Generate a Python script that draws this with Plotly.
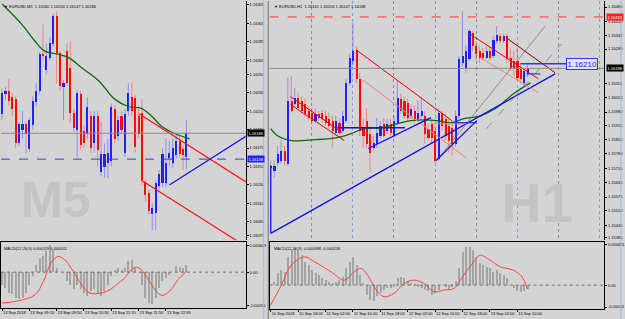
import plotly.graph_objects as go

W, H = 625, 319

# ---------------- M5 (left window) data ----------------
m5_open = [1.16207, 1.16229, 1.16232, 1.16225, 1.16223, 1.16176, 1.16190, 1.16196, 1.16169, 1.16195,
           1.16220, 1.16232, 1.16272, 1.16255, 1.16268, 1.16283, 1.16313, 1.16273, 1.16236, 1.16275,
           1.16257, 1.16208, 1.16190, 1.16229, 1.16189, 1.16185, 1.16205, 1.16175, 1.16205, 1.16144,
           1.16149, 1.16154, 1.16156, 1.16212, 1.16183, 1.16205, 1.16165, 1.16210, 1.16225, 1.16224,
           1.16205, 1.16208, 1.16133, 1.16121, 1.16099, 1.16100, 1.16129, 1.16132, 1.16132, 1.16159,
           1.16154, 1.16162, 1.16178, 1.16169, 1.16160]
m5_high = [1.16234, 1.16236, 1.16245, 1.16230, 1.16226, 1.16198, 1.16210, 1.16198, 1.16203, 1.16226,
           1.16240, 1.16274, 1.16304, 1.16283, 1.16290, 1.16316, 1.16318, 1.16275, 1.16244, 1.16284,
           1.16286, 1.16212, 1.16233, 1.16232, 1.16195, 1.16225, 1.16210, 1.16210, 1.16210, 1.16198,
           1.16175, 1.16180, 1.16218, 1.16216, 1.16205, 1.16210, 1.16212, 1.16240, 1.16241, 1.16228,
           1.16215, 1.16223, 1.16136, 1.16125, 1.16110, 1.16135, 1.16146, 1.16170, 1.16181, 1.16178,
           1.16180, 1.16186, 1.16184, 1.16172, 1.16200]
m5_low = [1.16200, 1.16222, 1.16216, 1.16205, 1.16170, 1.16172, 1.16180, 1.16164, 1.16166, 1.16190,
          1.16215, 1.16228, 1.16265, 1.16250, 1.16265, 1.16280, 1.16240, 1.16232, 1.16200, 1.16238,
          1.16198, 1.16188, 1.16160, 1.16168, 1.16170, 1.16180, 1.16165, 1.16165, 1.16150, 1.16140,
          1.16138, 1.16137, 1.16150, 1.16175, 1.16178, 1.16185, 1.16160, 1.16205, 1.16205, 1.16165,
          1.16180, 1.16130, 1.16112, 1.16098, 1.16081, 1.16081, 1.16125, 1.16128, 1.16128, 1.16150,
          1.16148, 1.16158, 1.16160, 1.16146, 1.16147]
m5_close = [1.16230, 1.16232, 1.16221, 1.16212, 1.16175, 1.16196, 1.16196, 1.16185, 1.16200, 1.16221,
            1.16232, 1.16272, 1.16270, 1.16270, 1.16284, 1.16313, 1.16273, 1.16237, 1.16240, 1.16241,
            1.16208, 1.16192, 1.16230, 1.16173, 1.16176, 1.16215, 1.16170, 1.16205, 1.16168, 1.16164,
            1.16164, 1.16165, 1.16214, 1.16180, 1.16200, 1.16190, 1.16207, 1.16230, 1.16210, 1.16171,
            1.16185, 1.16135, 1.16119, 1.16102, 1.16105, 1.16132, 1.16142, 1.16164, 1.16154, 1.16165,
            1.16170, 1.16178, 1.16164, 1.16162, 1.16186]
m5_ma_bar = [0, 5.8, 9.6, 12.5, 16, 19.5, 23.3, 28.3, 33, 37, 40.8, 43.7, 46.6, 50.4, 55]
m5_ma_val = [1.16326, 1.16304, 1.16286, 1.16275, 1.16272, 1.16268, 1.16257, 1.16243, 1.16223, 1.16215,
             1.16213, 1.16205, 1.16194, 1.16186, 1.16180]
m5_macd = [-0.000210, -0.000265, -0.000348, -0.000376, -0.000431, -0.000459, -0.000431, -0.000348, -0.000210, -0.000072,
           0.000122, 0.000232, 0.000260, 0.000343, 0.000453, 0.000371, 0.000066, 0.000000, 0.000000, -0.000155,
           -0.000210, -0.000293, -0.000210, -0.000293, -0.000348, -0.000404, -0.000321, -0.000293, -0.000376, -0.000404,
           -0.000321, -0.000210, -0.000072, 0.000039, 0.000066, 0.000039, 0.000066, 0.000177, 0.000205, 0.000066,
           0.000000, -0.000210, -0.000431, -0.000514, -0.000542, -0.000431, -0.000265, -0.000155, -0.000100, -0.000044,
           0.000000, 0.000094, 0.000083, 0.000066, 0.000119]
m5_sig_bar = [0, 4.9, 9.7, 12.1, 14.6, 16.5, 18.4, 20.9, 23.3, 25.7, 29.1, 31.6, 33.5, 35.9, 37.9, 39.3,
              40.8, 43.2, 45.6, 47.1, 49.5, 51.5, 54]
m5_sig_val = [-0.000514, -0.000476, -0.000376, -0.000155, 0.000177, 0.000260, 0.000205, 0.000011, -0.000210,
              -0.000348, -0.000348, -0.000293, -0.000210, -0.000100, 0.000039, 0.000083, 0.000039, -0.000155,
              -0.000348, -0.000387, -0.000293, -0.000127, 0.000011]
m5_date_bar = [0, 8, 16, 24, 32, 40, 48]
m5_date_text = ["13 Sep 2018", "13 Sep 09:10", "13 Sep 09:50", "13 Sep 10:30", "13 Sep 11:10",
                "13 Sep 11:50", "13 Sep 12:30"]
m5_price_ticks = [1.16325, 1.16305, 1.16285, 1.16265, 1.16250, 1.16230, 1.16210, 1.16190, 1.16170,
                  1.16150, 1.16130, 1.16110, 1.16090, 1.16075]
m5_macd_ticks = [0.000449, 0.0, -0.00055]
m5_macd_ticktext = ["0.000449", "0.00", "-0.00055"]
# drawn objects (bar index, price)
m5_red_upper = ([40.2, 72], [1.16207, 1.16132])
m5_red_lower = ([40.8, 72], [1.16135, 1.16062])
m5_blue_line = ([49, 72], [1.16130, 1.16184])
m5_bid = 1.16186
m5_level = 1.16158

# ---------------- H1 (right window) data ----------------
h1_open = [1.15715, 1.15701, 1.15739, 1.15749, 1.15796, 1.15734, 1.16034, 1.16019, 1.16048, 1.16034,
           1.16019, 1.15986, 1.15977, 1.15939, 1.15972, 1.15977, 1.15962, 1.15948, 1.15939, 1.15882,
           1.15929, 1.15891, 1.15939, 1.16119, 1.16224, 1.16276, 1.16138, 1.15905, 1.15939, 1.15877,
           1.15810, 1.15829, 1.15867, 1.15924, 1.15891, 1.15924, 1.15867, 1.15929, 1.16043, 1.16034,
           1.16024, 1.15962, 1.15986, 1.15948, 1.15962, 1.15962, 1.15901, 1.15924, 1.15891, 1.15758,
           1.15977, 1.15948, 1.15915, 1.15905, 1.15829, 1.15962, 1.16214, 1.16190, 1.16233, 1.16356,
           1.16295, 1.16271, 1.16262, 1.16238, 1.16271, 1.16247, 1.16318, 1.16342, 1.16318, 1.16342,
           1.16238, 1.16224, 1.16224, 1.16186, 1.16119, 1.16161]
h1_high = [1.15749, 1.15749, 1.15820, 1.15844, 1.15820, 1.16143, 1.16152, 1.16095, 1.16072, 1.16057,
           1.16043, 1.16010, 1.16000, 1.15996, 1.15986, 1.15991, 1.15986, 1.15977, 1.15962, 1.15962,
           1.15948, 1.15986, 1.16138, 1.16257, 1.16404, 1.16295, 1.16167, 1.15948, 1.16000, 1.15915,
           1.15867, 1.15953, 1.15939, 1.15948, 1.15948, 1.15948, 1.15962, 1.16129, 1.16067, 1.16053,
           1.16043, 1.16015, 1.16010, 1.16034, 1.16053, 1.15986, 1.15924, 1.15948, 1.15915, 1.15996,
           1.15986, 1.15972, 1.15948, 1.15939, 1.15986, 1.16247, 1.16461, 1.16295, 1.16376, 1.16366,
           1.16318, 1.16295, 1.16285, 1.16295, 1.16285, 1.16342, 1.16390, 1.16356, 1.16351, 1.16351,
           1.16281, 1.16271, 1.16285, 1.16214, 1.16190, 1.16206]
h1_low = [1.15677, 1.15668, 1.15720, 1.15734, 1.15725, 1.15725, 1.15977, 1.16005, 1.15986, 1.15972,
          1.15958, 1.15939, 1.15920, 1.15929, 1.15939, 1.15929, 1.15915, 1.15901, 1.15810, 1.15867,
          1.15872, 1.15882, 1.15929, 1.16105, 1.16200, 1.16119, 1.15867, 1.15810, 1.15810, 1.15692,
          1.15796, 1.15810, 1.15858, 1.15858, 1.15877, 1.15867, 1.15858, 1.15920, 1.15972, 1.15948,
          1.15939, 1.15948, 1.15929, 1.15939, 1.15948, 1.15829, 1.15844, 1.15829, 1.15739, 1.15749,
          1.15891, 1.15844, 1.15787, 1.15772, 1.15815, 1.15948, 1.16195, 1.16167, 1.16224, 1.16271,
          1.16224, 1.16214, 1.16224, 1.16233, 1.16224, 1.16238, 1.16309, 1.16304, 1.16309, 1.16214,
          1.16176, 1.16152, 1.16129, 1.16119, 1.16105, 1.16147]
h1_close = [1.15725, 1.15725, 1.15782, 1.15796, 1.15749, 1.16034, 1.15986, 1.16048, 1.16000, 1.15986,
            1.15972, 1.15953, 1.15939, 1.15972, 1.15953, 1.15948, 1.15929, 1.15915, 1.15891, 1.15939,
            1.15882, 1.15962, 1.16119, 1.16238, 1.16271, 1.16138, 1.15891, 1.15867, 1.15829, 1.15787,
            1.15834, 1.15882, 1.15915, 1.15867, 1.15924, 1.15882, 1.15939, 1.16048, 1.15986, 1.15962,
            1.15953, 1.15996, 1.15948, 1.15977, 1.15986, 1.15877, 1.15858, 1.15858, 1.15749, 1.15977,
            1.15915, 1.15867, 1.15844, 1.15829, 1.15962, 1.16233, 1.16247, 1.16271, 1.16366, 1.16295,
            1.16257, 1.16238, 1.16238, 1.16271, 1.16238, 1.16323, 1.16347, 1.16318, 1.16342, 1.16233,
            1.16190, 1.16186, 1.16143, 1.16138, 1.16176, 1.16188]
h1_ma_bar = [0, 2, 6.1, 12.8, 19.5, 23.5, 27.3, 32.3, 36.9, 41, 44.8, 48.5, 52.6, 56.4, 61.3, 66, 70.9, 75.9]
h1_ma_val = [1.15901, 1.15867, 1.15844, 1.15848, 1.15858, 1.15877, 1.15901, 1.15905, 1.15924, 1.15939,
             1.15943, 1.15939, 1.15929, 1.15948, 1.15962, 1.16000, 1.16067, 1.16119]
h1_macd = [0.0, 0.000067, 0.000233, 0.000300, 0.000267, 0.000567, 0.000700, 0.000733, 0.000700, 0.000600,
           0.000467, 0.000400, 0.000300, 0.000233, 0.000200, 0.000147, 0.000100, 0.000053, 0.000033, 0.000067,
           0.000100, 0.000167, 0.000333, 0.000467, 0.000567, 0.000400, 0.000200, 0.000033, -0.000200, -0.000300,
           -0.000333, -0.000233, -0.000167, -0.000100, -0.000067, -0.000067, -0.000033, 0.000133, 0.000167, 0.000133,
           0.000080, 0.000033, 0.000013, -0.000033, -0.000053, -0.000100, -0.000133, -0.000200, -0.000167, -0.000100,
           0.0, -0.000033, -0.000100, -0.000033, 0.000080, 0.000333, 0.000667, 0.000767, 0.000767, 0.000700,
           0.000567, 0.000433, 0.000400, 0.000367, 0.000333, 0.000267, 0.000300, 0.000233, 0.000200, 0.000133,
           0.0, -0.000067, -0.000133, -0.000147, -0.000120, -0.000088]
h1_sig_bar = [0, 3.1, 6, 9.9, 12.8, 17.6, 21.5, 24.4, 26.4, 28.3, 31.2, 33.1, 36, 39, 41.9, 44.8, 47.7,
              50.6, 53.5, 56.4, 59.3, 61.2, 64.1, 67.1, 70.9, 73.4, 75]
h1_sig_val = [-0.000400, 0.0, 0.000400, 0.000567, 0.000467, 0.000267, 0.000100, 0.000267, 0.000333, 0.000200,
              -0.000133, -0.000233, -0.000167, 0.000033, 0.000100, 0.000033, -0.000133, -0.000100, -0.000067,
              0.000200, 0.000467, 0.000600, 0.000500, 0.000367, 0.000300, 0.000167, -0.000080]
h1_date_bar = [0, 8, 16, 24, 32, 40, 48, 56, 64, 72]
h1_date_text = ["10 Sep 2018", "10 Sep 18:00", "11 Sep 02:00", "11 Sep 10:00", "11 Sep 18:00",
                "12 Sep 02:00", "12 Sep 10:00", "12 Sep 18:00", "13 Sep 02:00", "13 Sep 10:00"]
h1_price_ticks = [1.16480, 1.16410, 1.16345, 1.16280, 1.16115, 1.16050, 1.15980, 1.15915, 1.15850,
                  1.15780, 1.15710, 1.15645, 1.15575, 1.15510, 1.15440, 1.15380]
h1_macd_ticks = [0.00082, 0.0, -0.00044]
h1_macd_ticktext = ["0.000821", "0.00", "-0.00044"]
h1_grid_minor = [12, 36, 60, 84]
h1_grid_major = [24, 48, 72, 96]
h1_bid = 1.16188
h1_red_level = 1.16433
h1_blue_level = 1.16210
# drawn objects (bar index, price)
h1_lines = [
    ([0, 83.1], [1.15402, 1.16162], "#1010e0", 1.3, "solid"),
    ([0, 0], [1.15725, 1.15402], "#1010e0", 1.3, "solid"),
    ([68.9, 83.1], [1.16333, 1.16167], "#800000", 1.0, "solid"),
    ([57.8, 78.2], [1.16356, 1.16138], "#e00000", 1.0, "solid"),
    ([61.3, 78.2], [1.16238, 1.16072], "#f08080", 1.0, "solid"),
    ([73, 86.3], [1.16210, 1.16210], "#3030ff", 1.6, "solid"),
    ([74.7, 78.8], [1.16162, 1.16162], "#3030ff", 1.3, "solid"),
    ([48.5, 80.2], [1.15749, 1.16390], "#707070", 0.7, "solid"),
    ([63, 84.9], [1.15900, 1.16304], "#707070", 0.7, "dash"),
    ([25, 52.9], [1.16276, 1.15939], "#e00000", 1.0, "solid"),
    ([26.5, 57], [1.16138, 1.15763], "#f08080", 1.0, "solid"),
    ([47, 57], [1.15924, 1.15924], "#f08080", 1.0, "solid"),
    ([5.8, 20.9], [1.16053, 1.15882], "#e00000", 1.0, "solid"),
    ([5.8, 21.5], [1.16015, 1.15844], "#e00000", 1.0, "solid"),
    ([19.5, 39.2], [1.15905, 1.15905], "#1010e0", 1.3, "solid"),
    ([28.5, 46.8], [1.15806, 1.15953], "#1010e0", 1.3, "solid"),
    ([48.3, 60.2], [1.15749, 1.15939], "#1010e0", 1.3, "solid"),
    ([53.5, 60.2], [1.15929, 1.15929], "#3030ff", 1.3, "solid"),
]

BG = "#d4d4d4"
BULL, BEAR = "#1a1aff", "#ff0000"
BULL_W, BEAR_W = "rgba(60,60,255,0.45)", "rgba(255,40,40,0.45)"
FONT = "Liberation Sans"

def xdom(a, b):
    return [a / W, b / W]

def ydom(top, bottom):
    return [1 - bottom / H, 1 - top / H]

fig = go.Figure()

def add_candles(o, h, l, c, xa, ya):
    idx = list(range(len(o)))
    for up, bcol, wcol in [(True, BULL, BULL_W), (False, BEAR, BEAR_W)]:
        sel = [i for i in idx if (c[i] >= o[i]) == up]
        wx, wy = [], []
        for i in sel:
            wx += [i, i, None]
            wy += [l[i], h[i], None]
        fig.add_trace(go.Scatter(x=wx, y=wy, mode="lines", line=dict(color=wcol, width=1),
                                 xaxis=xa, yaxis=ya, hoverinfo="skip", showlegend=False))
        fig.add_trace(go.Bar(x=sel, y=[max(abs(c[i] - o[i]), 0.00002) for i in sel],
                             base=[min(o[i], c[i]) for i in sel], width=0.62,
                             marker=dict(color=bcol, line_width=0), xaxis=xa, yaxis=ya,
                             showlegend=False))

def add_line(xs, ys, color, width, xa, ya, dash="solid", shape="linear"):
    fig.add_trace(go.Scatter(x=xs, y=ys, mode="lines", line=dict(color=color, width=width, dash=dash, shape=shape),
                             xaxis=xa, yaxis=ya, hoverinfo="skip", showlegend=False))

# ---- left main
add_candles(m5_open, m5_high, m5_low, m5_close, "x", "y")
add_line(m5_ma_bar, m5_ma_val, "#0a6a0a", 1.3, "x", "y", shape="spline")
add_line(*m5_red_upper, "#ff1010", 1.2, "x", "y")
add_line(*m5_red_lower, "#ff1010", 1.2, "x", "y")
add_line(*m5_blue_line, "#1010e0", 1.2, "x", "y")
# ---- left macd
fig.add_trace(go.Bar(x=list(range(len(m5_macd))), y=m5_macd, width=0.3, marker=dict(color="#a4a4a4", line_width=0),
                     xaxis="x2", yaxis="y2", showlegend=False))
add_line(m5_sig_bar, m5_sig_val, "#ff4040", 1.0, "x2", "y2", shape="spline")
# ---- right main
add_candles(h1_open, h1_high, h1_low, h1_close, "x3", "y3")
add_line(h1_ma_bar, h1_ma_val, "#0a6a0a", 1.3, "x3", "y3", shape="spline")
for xs, ys, col, wd, ds in h1_lines:
    add_line(xs, ys, col, wd, "x3", "y3", dash=ds)
# ---- right macd
fig.add_trace(go.Bar(x=list(range(len(h1_macd))), y=h1_macd, width=0.3, marker=dict(color="#a4a4a4", line_width=0),
                     xaxis="x4", yaxis="y4", showlegend=False))
add_line(h1_sig_bar, h1_sig_val, "#ff4040", 1.0, "x4", "y4", shape="spline")

tickfont = dict(family=FONT, size=4, color="#000000")
axis_common = dict(showgrid=False, zeroline=False, fixedrange=True)

def fmt(v, n=5):
    return f"{v:.{n}f}"

fig.update_layout(
    width=W, height=H, margin=dict(l=0, r=0, t=0, b=0), autosize=False,
    paper_bgcolor=BG, plot_bgcolor=BG, barmode="overlay", bargap=0,
    showlegend=False,
    xaxis=dict(domain=xdom(0, 246), range=[-0.3, 71.4], anchor="y", showticklabels=False, ticks="",
               **axis_common),
    yaxis=dict(domain=ydom(0, 240), range=[1.160701, 1.163293], anchor="x", side="right",
               tickvals=m5_price_ticks, ticktext=[fmt(v) for v in m5_price_ticks], tickfont=tickfont,
               ticks="outside", ticklen=2, tickcolor="#000", showline=True, linecolor="#000", linewidth=1,
               **axis_common),
    xaxis2=dict(domain=xdom(0, 246), range=[-0.3, 71.4], anchor="y2", tickvals=m5_date_bar,
                ticktext=m5_date_text, tickfont=tickfont, ticks="outside", ticklen=2, tickcolor="#000",
                ticklabelposition="outside right", tickangle=0, showline=True, mirror=True, linecolor="#000",
                **axis_common),
    yaxis2=dict(domain=ydom(242, 308), range=[-0.000598, 0.000498], anchor="x2", side="right",
                tickvals=m5_macd_ticks, ticktext=m5_macd_ticktext, tickfont=tickfont, ticks="outside",
                ticklen=2, tickcolor="#000", showline=True, mirror=True, linecolor="#000", **axis_common),
    xaxis3=dict(domain=xdom(270, 606), range=[-0.3, 97.4], anchor="y3", tickvals=h1_grid_major,
                showticklabels=False, ticks="", showgrid=True, gridcolor="#7f9fd8", griddash="dot",
                gridwidth=1, zeroline=False, fixedrange=True,
                minor=dict(tickvals=h1_grid_minor, showgrid=True, gridcolor="#8c8c8c", griddash="dot",
                           gridwidth=1)),
    yaxis3=dict(domain=ydom(0, 240), range=[1.15369, 1.16509], anchor="x3", side="right",
                tickvals=h1_price_ticks, ticktext=[fmt(v) for v in h1_price_ticks], tickfont=tickfont,
                ticks="outside", ticklen=2, tickcolor="#000", showline=True, linecolor="#000", linewidth=1,
                **axis_common),
    xaxis4=dict(domain=xdom(270, 606), range=[-0.3, 97.4], anchor="y4", tickvals=h1_date_bar,
                ticktext=h1_date_text, tickfont=tickfont, ticks="outside", ticklen=2, tickcolor="#000",
                ticklabelposition="outside right", tickangle=0, showline=True, mirror=True, linecolor="#000",
                **axis_common),
    yaxis4=dict(domain=ydom(242, 309), range=[-0.00048, 0.00086], anchor="x4", side="right",
                tickvals=h1_macd_ticks, ticktext=h1_macd_ticktext, tickfont=tickfont, ticks="outside",
                ticklen=2, tickcolor="#000", showline=True, mirror=True, linecolor="#000", **axis_common),
)

shapes = []
# horizontal price levels
shapes.append(dict(type="line", xref="x domain", x0=0, x1=1, yref="y", y0=m5_bid, y1=m5_bid,
                   line=dict(color="#8a8a8a", width=1)))
shapes.append(dict(type="line", xref="x domain", x0=0, x1=1, yref="y", y0=m5_level, y1=m5_level,
                   line=dict(color="#3a3ad0", width=1, dash="dash")))
shapes.append(dict(type="line", xref="x3 domain", x0=0, x1=1, yref="y3", y0=h1_bid, y1=h1_bid,
                   line=dict(color="#8a8a8a", width=1)))
shapes.append(dict(type="line", xref="x3 domain", x0=0, x1=1, yref="y3", y0=h1_red_level, y1=h1_red_level,
                   line=dict(color="#ff3030", width=1, dash="dash")))
# zero lines of MACD
shapes.append(dict(type="line", xref="x2 domain", x0=0, x1=1, yref="y2", y0=0, y1=0,
                   line=dict(color="#707070", width=1, dash="dot")))
shapes.append(dict(type="line", xref="x4 domain", x0=0, x1=1, yref="y4", y0=0, y1=0,
                   line=dict(color="#707070", width=1, dash="dot")))
# window borders
shapes.append(dict(type="line", xref="paper", yref="paper", x0=264 / W, x1=264 / W, y0=0, y1=1,
                   line=dict(color="#9fbde0", width=1)))
shapes.append(dict(type="line", xref="paper", yref="paper", x0=268.5 / W, x1=268.5 / W, y0=0, y1=1,
                   line=dict(color="#707070", width=1)))
shapes.append(dict(type="line", xref="paper", yref="paper", x0=623 / W, x1=623 / W, y0=0, y1=1,
                   line=dict(color="#9fbde0", width=1)))
fig.update_layout(shapes=shapes)

ann = []
def box(text, xpx, yref, yval, bg, fg):
    ann.append(dict(text=text, xref="paper", x=xpx / W, xanchor="left", yref=yref, y=yval, yanchor="middle",
                    showarrow=False, bgcolor=bg, font=dict(family=FONT, size=4, color=fg), borderpad=0.5))

box(fmt(m5_bid), 247.5, "y", m5_bid, "#000000", "#ffffff")
box(fmt(m5_level), 247.5, "y", m5_level, "#2020ff", "#ffffff")
box(fmt(h1_bid), 607.5, "y3", h1_bid, "#000000", "#ffffff")
box(fmt(h1_red_level), 607.5, "y3", h1_red_level, "#ff2020", "#ffffff")
ann.append(dict(text=fmt(h1_blue_level), xref="x3", x=86.3, xanchor="left", yref="y3", y=h1_blue_level,
                yanchor="middle", showarrow=False, bgcolor="#dfe4ff", bordercolor="#3030ff", borderwidth=1,
                borderpad=0.5, font=dict(family=FONT, size=8, color="#2020d0")))
# headers
ann.append(dict(text="▼ EURUSD,M5  1.16160 1.16200 1.16147 1.16186", xref="paper", x=1 / W, xanchor="left",
                yref="paper", y=1 - 1 / H, yanchor="top", showarrow=False,
                font=dict(family=FONT, size=4, color="#000")))
ann.append(dict(text="▼ EURUSD,H1  1.16161 1.16206 1.16147 1.16188", xref="paper", x=272 / W, xanchor="left",
                yref="paper", y=1 - 1 / H, yanchor="top", showarrow=False,
                font=dict(family=FONT, size=4, color="#000")))
ann.append(dict(text="MACD(12,26,9) 0.000119 0.000011", xref="paper", x=1 / W, xanchor="left",
                yref="paper", y=1 - 244 / H, yanchor="top", showarrow=False,
                font=dict(family=FONT, size=4, color="#000")))
ann.append(dict(text="MACD(12,26,9) -0.000088 -0.000158", xref="paper", x=272 / W, xanchor="left",
                yref="paper", y=1 - 244 / H, yanchor="top", showarrow=False,
                font=dict(family=FONT, size=4, color="#000")))
# watermarks
ann.append(dict(text="<b>M5</b>", xref="paper", x=18 / W, xanchor="left", yref="paper", y=1 - 200 / H,
                yanchor="middle", showarrow=False, font=dict(family=FONT, size=50, color="#c4c4c4")))
ann.append(dict(text="<b>H1</b>", xref="paper", x=500 / W, xanchor="left", yref="paper", y=1 - 202 / H,
                yanchor="middle", showarrow=False, font=dict(family=FONT, size=56, color="#c4c4c4")))
fig.update_layout(annotations=ann)

fig.write_html("out.html")
